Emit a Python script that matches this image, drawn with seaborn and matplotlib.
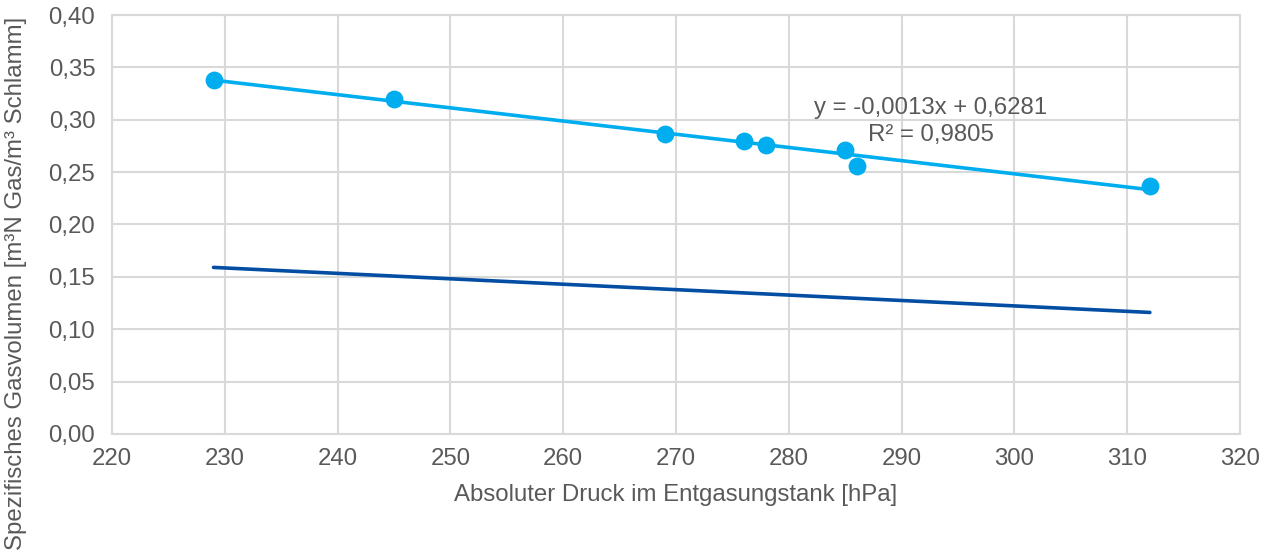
import numpy as np
import pandas as pd
import matplotlib
matplotlib.use("Agg")
import matplotlib.pyplot as plt
from matplotlib.ticker import FuncFormatter, MultipleLocator
import seaborn as sns

# measured points
druck = [229, 245, 269, 276, 278, 285, 286, 312]
gasvolumen = [0.338, 0.320, 0.286, 0.280, 0.276, 0.271, 0.256, 0.237]

# second (dark) line
druck_ref = [229, 312]
gasvolumen_ref = [0.159, 0.116]

eq_text = "y = -0,0013x + 0,6281\nR² = 0,9805"

light_blue = "#00ADEF"
dark_blue = "#034EA2"
grey_text = "#595959"
grid_col = "#D9D9D9"
fs = 17.3

sns.set_theme(style="white")
plt.rcParams['font.family'] = ['Liberation Sans', 'DejaVu Sans']

fig = plt.figure(figsize=(12.64, 5.57), dpi=100)
ax = fig.add_axes([0.0886, 0.221, 0.8925, 0.752])

df = pd.DataFrame({"x": druck, "y": gasvolumen})
sns.regplot(data=df, x="x", y="y", ax=ax, ci=None, truncate=True,
            color=light_blue,
            scatter_kws={"s": 165, "linewidths": 0, "alpha": 1, "zorder": 4},
            line_kws={"lw": 2.6, "zorder": 3})

ref = pd.DataFrame({"x": druck_ref, "y": gasvolumen_ref})
sns.lineplot(data=ref, x="x", y="y", ax=ax, color=dark_blue, lw=2.6, zorder=3)

ax.text(292.6, 0.298, eq_text, ha="center", va="center", multialignment="center",
        fontsize=fs, color=grey_text, linespacing=1.3, zorder=5)

ax.set_xlim(220, 320)
ax.set_ylim(0, 0.40)
ax.xaxis.set_major_locator(MultipleLocator(10))
ax.yaxis.set_major_locator(MultipleLocator(0.05))
ax.yaxis.set_major_formatter(FuncFormatter(lambda v, p: f"{v:.2f}".replace(".", ",")))

ax.grid(True, color=grid_col, lw=1.5, zorder=0)
ax.set_axisbelow(True)
for s in ax.spines.values():
    s.set_color(grid_col)
    s.set_linewidth(1.5)

ax.tick_params(axis="y", labelsize=fs, colors=grey_text, length=0, pad=12)
ax.tick_params(axis="x", labelsize=fs, colors=grey_text, length=0, pad=10)
ax.set_xlabel("Absoluter Druck im Entgasungstank [hPa]", fontsize=fs,
              color=grey_text, labelpad=10)
ax.set_ylabel("Spezifisches Gasvolumen [m³N Gas/m³ Schlamm]", fontsize=fs,
              color=grey_text)
ax.yaxis.set_label_coords(-0.075, 0.36)

fig.savefig("out.png", dpi=100)
